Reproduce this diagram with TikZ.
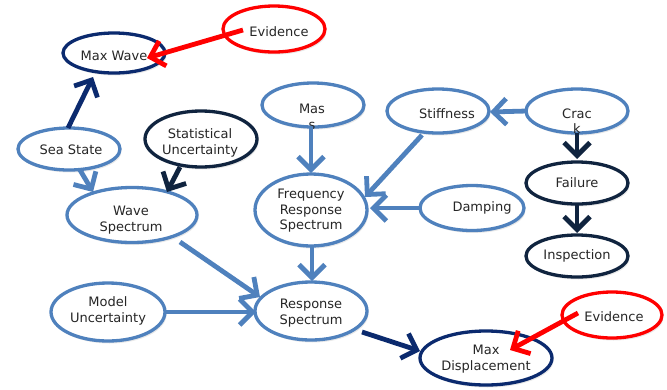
\documentclass[tikz,border=0pt]{standalone}
\usepackage{fontspec}
\setmainfont{DejaVu Sans}
\usetikzlibrary{shapes.geometric,arrows.meta,calc,shadows}
\definecolor{lblue}{HTML}{4F81BD}
\definecolor{navy}{HTML}{0B2A6E}
\definecolor{dnavy}{HTML}{10243F}
\definecolor{ered}{HTML}{FF0000}
\definecolor{txtc}{HTML}{262626}
\begin{document}
\begin{tikzpicture}[x=1pt,y=-1pt,
  lbl/.style={text=txtc, align=center, inner sep=0pt, font=\fontsize{13}{15.5}\selectfont},
  ell/.style={ellipse, line width=3.3pt, fill=white, lbl,
    drop shadow={opacity=0.18, shadow xshift=1.5pt, shadow yshift=-2.5pt}},
  conn/.style={line width=4.8pt, -{Straight Barb[length=13pt,width=26pt]}},
]
\useasboundingbox (0,0) rectangle (667,389);

% nodes
\node[ell, draw=ered, minimum width=102pt, minimum height=46pt] (evid1) at (274,29) {};
\node[lbl] (evid1t) at (279,32) {Evidence};
\node[ell, draw=navy, minimum width=102pt, minimum height=40pt] (maxwave) at (114,53) {};
\node[lbl] (maxwavet) at (114,56) {Max Wave};
\node[ell, draw=lblue, minimum width=102pt, minimum height=42pt] (seastate) at (69,149) {};
\node[lbl] (seastatet) at (71,150) {Sea State};
\node[ell, draw=dnavy, minimum width=112pt, minimum height=56pt] (statunc) at (201,139) {};
\node[lbl] (statunct) at (200,143) {Statistical\\Uncertainty};
\node[ell, draw=lblue, minimum width=130pt, minimum height=55pt] (wavespec) at (132,215) {};
\node[lbl] (wavespect) at (131,220) {Wave\\Spectrum};
\node[ell, draw=lblue, minimum width=102pt, minimum height=44pt] (mass) at (313,105) {};
\node[lbl] (masst) at (312,117) {Mas\\s};
\node[ell, draw=lblue, minimum width=102pt, minimum height=44pt] (stiff) at (438,111) {};
\node[lbl] (stifft) at (447,114) {Stiffness};
\node[ell, draw=lblue, minimum width=102pt, minimum height=44pt] (crack) at (577,111) {};
\node[lbl] (crackt) at (577,121) {Crac\\k};
\node[ell, draw=lblue, minimum width=112pt, minimum height=72pt] (freq) at (311,210) {};
\node[lbl] (freqt) at (311,211) {Frequency\\Response\\Spectrum};
\node[ell, draw=lblue, minimum width=104pt, minimum height=45pt] (damp) at (472,208) {};
\node[lbl] (dampt) at (482,208) {Damping};
\node[ell, draw=dnavy, minimum width=102pt, minimum height=42pt] (fail) at (577,183) {};
\node[lbl] (failt) at (577,183) {Failure};
\node[ell, draw=dnavy, minimum width=102pt, minimum height=42pt] (insp) at (577,256) {};
\node[lbl] (inspt) at (577,256) {Inspection};
\node[ell, draw=lblue, minimum width=114pt, minimum height=58pt] (model) at (108,312) {};
\node[lbl] (modelt) at (108,311) {Model\\Uncertainty};
\node[ell, draw=lblue, minimum width=112pt, minimum height=58pt] (resp) at (311,311) {};
\node[lbl] (respt) at (311,313) {Response\\Spectrum};
\node[ell, draw=ered, minimum width=100pt, minimum height=46pt] (evid2) at (612,315) {};
\node[lbl] (evid2t) at (614,317) {Evidence};
\node[ell, draw=navy, minimum width=132pt, minimum height=54pt] (maxdisp) at (486,358) {};
\node[lbl] (maxdispt) at (486,359) {Max\\Displacement};

% connectors
\draw[conn, ered] ($(evid1)+(-31,1)$) -- ($(maxwave)+(33,5)$);
\draw[conn, navy] ($(seastate)+(-1,-21)$) -- ($(maxwave)+(-21,24)$);
\draw[conn, lblue] ($(seastate)+(11,21)$) -- ($(wavespec)+(-39,-23)$);
\draw[conn, dnavy] ($(statunc)+(-21,28)$) -- ($(wavespec)+(35,-23)$);
\draw[conn, lblue] ($(wavespec)+(48,27)$) -- ($(resp)+(-51,-14)$);
\draw[conn, lblue] ($(mass)+(-2,22)$) -- ($(freq)+(0,-37)$);
\draw[conn, lblue] ($(stiff)+(-16,24)$) -- ($(freq)+(54,-13)$);
\draw[conn, lblue] ($(damp)+(-52,0)$) -- ($(freq)+(59,-2)$);
\draw[conn, lblue] ($(crack)+(-50,0)$) -- ($(stiff)+(52,1)$);
\draw[conn, dnavy] ($(crack)+(0,22)$) -- ($(fail)+(0,-24)$);
\draw[conn, dnavy] ($(fail)+(0,21)$) -- ($(insp)+(0,-23)$);
\draw[conn, lblue] ($(freq)+(1,36)$) -- ($(resp)+(1,-30)$);
\draw[conn, lblue] ($(model)+(57,0)$) -- ($(resp)+(-55,1)$);
\draw[conn, navy] ($(resp)+(51,21)$) -- ($(maxdisp)+(-66,-7)$);
\draw[conn, ered] ($(evid2)+(-34,-2)$) -- ($(maxdisp)+(24,-8)$);
\end{tikzpicture}
\end{document}
